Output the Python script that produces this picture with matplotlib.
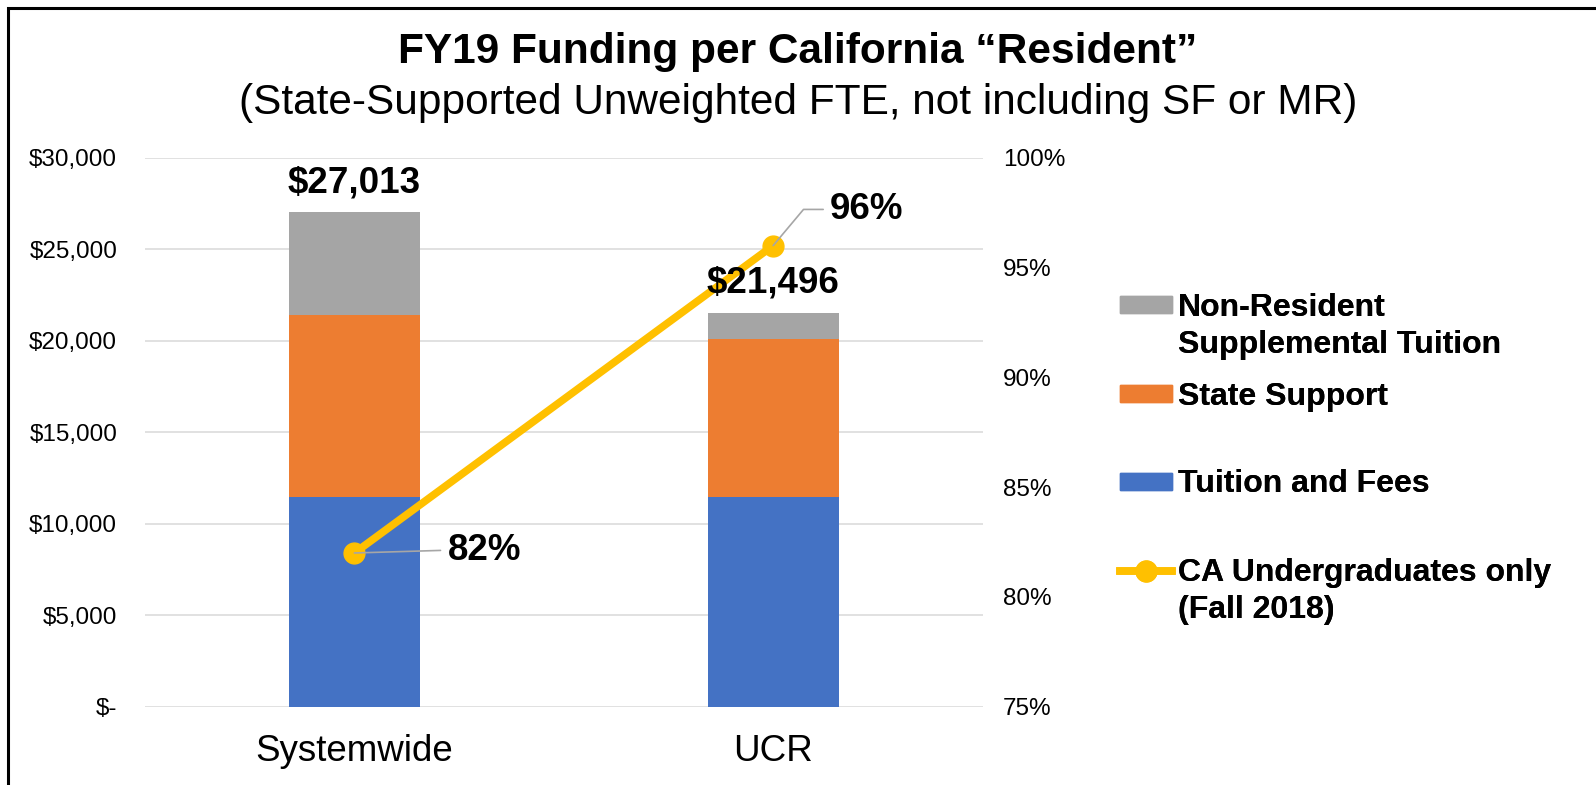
import numpy as np
import matplotlib
matplotlib.use("Agg")
import matplotlib.pyplot as plt
from matplotlib.patches import Rectangle, Patch
from matplotlib.lines import Line2D
from matplotlib.ticker import FuncFormatter

plt.rcParams['font.family'] = ['Liberation Sans', 'DejaVu Sans']

# data
categories = ["Systemwide", "UCR"]
tuition_fees = [11442, 11442]
state_support = [9948, 8635]
nonres_suppl = [5623, 1419]
totals = [27013, 21496]
ca_undergrad_pct = [82, 96]

c_blue = "#4472C4"
c_orange = "#ED7D31"
c_grey = "#A5A5A5"
c_yellow = "#FFC000"
c_grid = "#D9D9D9"

W, H = 1596, 785
fig = plt.figure(figsize=(W / 100, H / 100), dpi=100)
ax = fig.add_axes([145 / W, 1 - 706.7 / H, 837.6 / W, 549 / H])
ax2 = ax.twinx()

x = np.arange(len(categories))
bw = 0.313
tf = np.array(tuition_fees)
ss = np.array(state_support)
nr = np.array(nonres_suppl)
ax.bar(x, tf, bw, color=c_blue, zorder=2)
ax.bar(x, ss, bw, bottom=tf, color=c_orange, zorder=2)
ax.bar(x, nr, bw, bottom=tf + ss, color=c_grey, zorder=2)

ax.set_xlim(-0.5, len(categories) - 0.5)
ax.set_ylim(0, 30000)
ax.set_yticks(np.arange(0, 30001, 5000))
ax.yaxis.set_major_formatter(FuncFormatter(lambda v, p: "$-" if v == 0 else f"${v:,.0f}"))
ax.grid(axis='y', color=c_grid, lw=1.1, zorder=0)
ax.set_axisbelow(True)
ax.set_xticks(x)
ax.set_xticklabels(categories, fontsize=26.5)
ax.tick_params(axis='x', length=0, pad=20)
ax.tick_params(axis='y', length=0, pad=20, labelsize=17.5)
for s in ax.spines.values():
    s.set_visible(False)

# CA undergrad share on the right axis
ax2.plot(x, ca_undergrad_pct, color=c_yellow, lw=5.5, marker='o', ms=15,
         solid_capstyle='round', zorder=3)
ax2.set_ylim(75, 100)
ax2.set_yticks(np.arange(75, 101, 5))
ax2.yaxis.set_major_formatter(FuncFormatter(lambda v, p: f"{v:.0f}%"))
ax2.tick_params(axis='y', length=0, pad=14.7, labelsize=17.5)
for s in ax2.spines.values():
    s.set_visible(False)

# total labels above the bars (drawn on ax2 so they sit over the line)
for xi, t in zip(x, totals):
    ax2.annotate(f"${t:,}", xy=(xi, t), xycoords=ax.transData,
                 xytext=(0, 21.5), textcoords='offset points',
                 ha='center', va='center', fontsize=26.5, fontweight='bold', zorder=5)

# percent labels with leader lines
ax2.annotate(f"{ca_undergrad_pct[0]}%", xy=(x[0], ca_undergrad_pct[0]),
             xytext=(67, 2), textcoords='offset points',
             ha='left', va='center', fontsize=26.5, fontweight='bold',
             arrowprops=dict(arrowstyle='-', color='#A6A6A6', lw=1.2,
                             relpos=(0, 0.5), shrinkA=3, shrinkB=0))
ax2.annotate(f"{ca_undergrad_pct[1]}%", xy=(x[1], ca_undergrad_pct[1]),
             xytext=(41, 26), textcoords='offset points',
             ha='left', va='center', fontsize=26.5, fontweight='bold',
             arrowprops=dict(arrowstyle='-', color='#A6A6A6', lw=1.2,
                             relpos=(0, 0.5), shrinkA=3, shrinkB=0,
                             connectionstyle="angle,angleA=0,angleB=50,rad=0"))

# titles
fig.text(798 / W, 1 - 52 / H, "FY19 Funding per California \u201cResident\u201d",
         ha='center', va='center', fontsize=30.5, fontweight='bold')
fig.text(798 / W, 1 - 103 / H, "(State-Supported Unweighted FTE, not including SF or MR)",
         ha='center', va='center', fontsize=30.5)

# legend, one block per entry to keep the Excel spacing
blank = Patch(visible=False)
leg_kw = dict(frameon=False, loc='center left', borderpad=0, borderaxespad=0,
              handlelength=1.62, handleheight=0.45, handletextpad=0.2,
              labelspacing=0.24, prop=dict(size=23, weight='bold'))
legend_blocks = [
    ([Patch(color=c_grey), blank], ["Non-Resident", "Supplemental Tuition"], 326.5),
    ([Patch(color=c_orange)], ["State Support"], 397),
    ([Patch(color=c_blue)], ["Tuition and Fees"], 484.5),
    ([Line2D([], [], color=c_yellow, lw=5.5, marker='o', ms=15), blank],
     ["CA Undergraduates only", "(Fall 2018)"], 591.5),
]
for handles, labels, yc in legend_blocks:
    lg = fig.legend(handles, labels, bbox_to_anchor=(1120 / W, 1 - yc / H), **leg_kw)
    fig.add_artist(lg)

# slide frame (left and top edges visible)
fig.add_artist(Rectangle((7.5 / W, -0.05), 1.2, 1.05 - 7.5 / H, transform=fig.transFigure,
                         fill=False, ec='black', lw=2.2, clip_on=False))

fig.savefig("out.png", dpi=100)
